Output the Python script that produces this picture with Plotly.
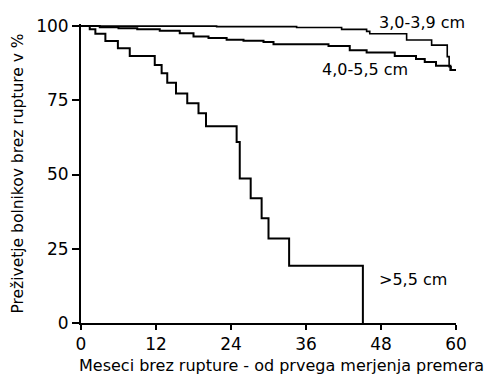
import plotly.graph_objects as go

# Kaplan-Meier style survival curves (months, % without rupture)
months_30_39 = [0, 21.7, 34.5, 41.7, 45.7, 46.2, 52.1, 56.1, 58.6, 58.9, 59.2, 60]
surv_30_39 = [100, 99.8, 99.5, 98.9, 98.2, 97.4, 95.3, 93.6, 89.7, 86.3, 85.2, 85.2]

months_40_55 = [0, 3.0, 6.0, 9.0, 12.6, 15.8, 18.0, 20.4, 23.3, 26.0, 29.2, 30.8,
                39.6, 43.0, 45.7, 50.2, 53.6, 55.0, 56.8, 59.1, 60]
surv_40_55 = [100, 99.6, 99.3, 98.9, 98.4, 97.6, 96.5, 96.0, 95.4, 95.1, 94.6, 93.9,
              93.3, 91.9, 91.1, 89.9, 88.9, 87.9, 86.6, 85.2, 85.2]

months_gt55 = [0, 1.4, 2.3, 3.9, 5.9, 7.8, 11.8, 12.9, 13.8, 15.2, 17.0, 18.8, 20.0,
               24.9, 25.4, 27.15, 28.9, 30.0, 33.3, 45.1]
surv_gt55 = [100, 98.9, 97.4, 95.0, 92.5, 89.9, 86.9, 84.1, 80.9, 77.3, 74.0, 70.6, 66.3,
             61.0, 48.7, 42.0, 35.3, 28.5, 19.3, 0]

series_labels = ["3,0-3,9 cm", "4,0-5,5 cm", ">5,5 cm"]
label_pos_x = [47.4, 38.2, 47.4]          # data x (months)
label_pos_y = [1.004, 0.849, 0.145]       # paper y

x_ticks = [0, 12, 24, 36, 48, 60]
y_ticks = [0, 25, 50, 75, 100]

x_title = "Meseci brez rupture - od prvega merjenja premera"
y_title = "Preživetje bolnikov brez rupture v %"

FONT = "DejaVu Sans"

fig = go.Figure()
for xs, ys, w in [(months_30_39, surv_30_39, 1.6),
                  (months_40_55, surv_40_55, 2),
                  (months_gt55, surv_gt55, 2)]:
    fig.add_trace(go.Scatter(x=xs, y=ys, mode="lines", line_shape="hv",
                             line=dict(color="black", width=w), showlegend=False,
                             hoverinfo="skip"))

for txt, lx, ly in zip(series_labels, label_pos_x, label_pos_y):
    fig.add_annotation(x=lx, y=ly, xref="x", yref="paper", text=txt, showarrow=False,
                       xanchor="left", yanchor="middle",
                       font=dict(family=FONT, size=16, color="black"))

# x-axis title (offset to the right as in the original)
fig.add_annotation(x=0.535, y=-0.143, xref="paper", yref="paper", text=x_title,
                   showarrow=False, xanchor="center", yanchor="middle",
                   font=dict(family=FONT, size=16, color="black"))

fig.update_xaxes(range=[0, 60], tickvals=x_ticks, ticks="outside", ticklen=5,
                 tickwidth=1.5, tickcolor="black", showline=True, linecolor="black",
                 linewidth=2, showgrid=False, zeroline=False, automargin=False,
                 tickfont=dict(family=FONT, size=17, color="black"))
fig.update_yaxes(range=[0, 100.7], tickvals=y_ticks, ticks="outside", ticklen=7,
                 tickwidth=1.5, tickcolor="black", showline=True, linecolor="black",
                 linewidth=2, showgrid=False, zeroline=False, automargin=False,
                 tickfont=dict(family=FONT, size=17, color="black"),
                 title=dict(text=y_title, standoff=9,
                            font=dict(family=FONT, size=15.5, color="black")))

fig.update_layout(width=487, height=374, margin=dict(l=81, r=31, t=24, b=51),
                  paper_bgcolor="white", plot_bgcolor="white")

fig.write_html("out.html", config={"displayModeBar": False},
               post_script="document.body.style.margin='0';document.body.style.padding='0';")
